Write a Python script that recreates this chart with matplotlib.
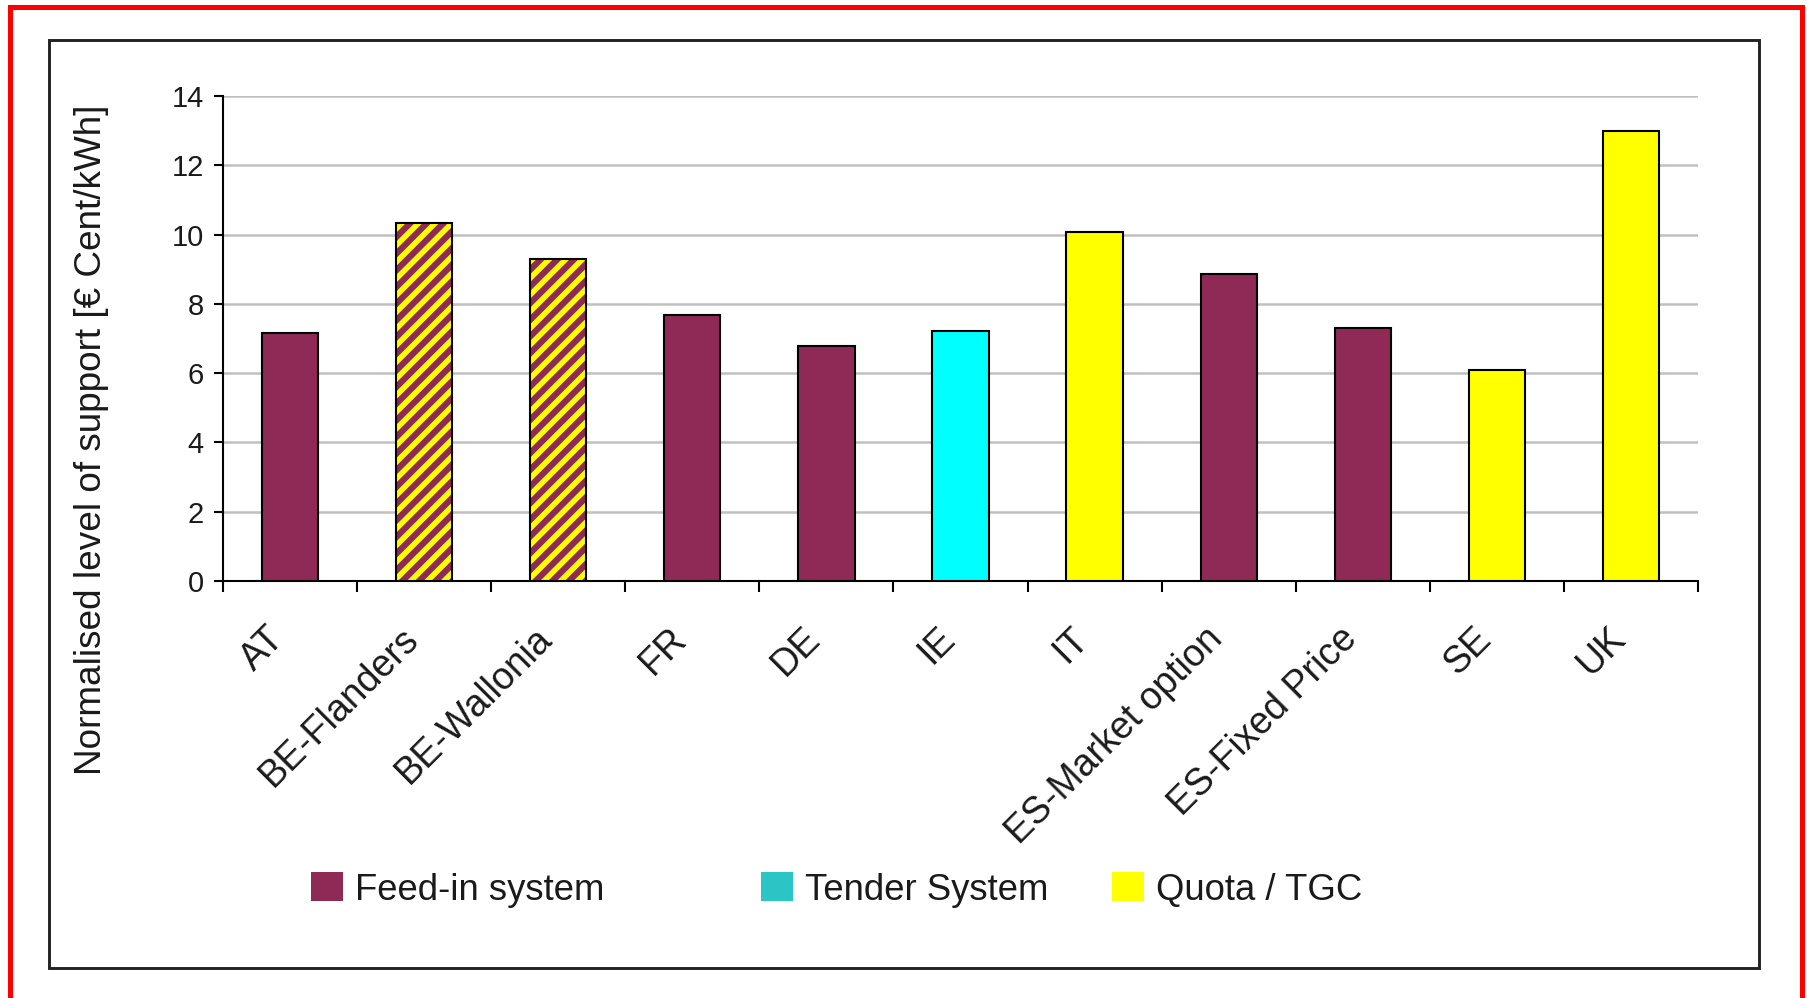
import matplotlib
matplotlib.use("Agg")
import matplotlib.pyplot as plt
from matplotlib.patches import Patch, Rectangle
from matplotlib.transforms import ScaledTranslation
import numpy as np

# data
countries = ["AT", "BE-Flanders", "BE-Wallonia", "FR", "DE", "IE", "IT",
             "ES-Market option", "ES-Fixed Price", "SE", "UK"]
support = [7.15, 10.32, 9.30, 7.68, 6.77, 7.22, 10.08, 8.86, 7.31, 6.09, 13.0]
# support scheme of each bar
scheme = ["feed", "mixed", "mixed", "feed", "feed", "tender", "quota",
          "feed", "feed", "quota", "quota"]
legend_labels = ["Feed-in system", "Tender System", "Quota / TGC"]
y_ticks = [0, 2, 4, 6, 8, 10, 12, 14]

PURPLE = "#8F2956"
CYAN = "#00FFFF"
TEAL = "#2CC5C5"
YELLOW = "#FFFF00"
TXT = "#1a1a1a"

W, H, DPI = 1807, 998, 150
plt.rcParams["font.family"] = ["Liberation Sans", "DejaVu Sans"]
plt.rcParams["hatch.linewidth"] = 3.0

fig = plt.figure(figsize=(W / DPI, H / DPI), dpi=DPI)
ax = fig.add_axes([223 / W, 1 - 581 / H, (1698 - 223) / W, (581 - 96) / H])

x = np.arange(len(countries))
fill = {"feed": PURPLE, "tender": CYAN, "quota": YELLOW, "mixed": YELLOW}
for xi, val, kind in zip(x, support, scheme):
    if kind == "mixed":
        # yellow bar with purple diagonal stripes, black outline on top
        ax.bar(xi, val, width=0.42, color=YELLOW, edgecolor=PURPLE,
               hatch="///", linewidth=0, zorder=3)
        ax.bar(xi, val, width=0.42, fill=False, edgecolor="black",
               linewidth=1.0, zorder=4)
    else:
        ax.bar(xi, val, width=0.42, color=fill[kind], edgecolor="black",
               linewidth=1.0, zorder=3)

ax.set_xlim(-0.5, len(countries) - 0.5)
ax.set_ylim(0, 14)
ax.set_yticks(y_ticks)
ax.yaxis.grid(True, color="#c0c0c0", linewidth=1.2, zorder=0)
ax.set_axisbelow(True)

for side in ["top", "right"]:
    ax.spines[side].set_visible(False)
for side in ["left", "bottom"]:
    ax.spines[side].set_linewidth(1.0)
    ax.spines[side].set_color("black")

ax.tick_params(axis="y", length=4.3, width=1.0, pad=5.0, labelsize=14,
               labelcolor=TXT)
ax.set_xticks(x)
ax.set_xticklabels(countries, rotation=45, ha="right", va="top",
                   rotation_mode="anchor", fontsize=18, color=TXT)
ax.tick_params(axis="x", which="major", length=0, pad=19)
ax.set_xticks(np.arange(-0.5, len(countries)), minor=True)
ax.tick_params(axis="x", which="minor", length=5.3, width=1.0)

shift = ScaledTranslation(-24 / DPI, 0, fig.dpi_scale_trans)
for lab in ax.get_xticklabels():
    lab.set_transform(lab.get_transform() + shift)

fig.text(92 / W, 1 - 440 / H, "Normalised level of support [€ Cent/kWh]",
         rotation=90, ha="center", va="center", fontsize=17.7, color=TXT)

# legend entries are spaced unevenly in the original, so place them one by one
legend_x = [311, 761, 1112]
legend_col = [PURPLE, TEAL, YELLOW]
for lx, lab, col in zip(legend_x, legend_labels, legend_col):
    fig.legend(handles=[Patch(facecolor=col, edgecolor="none", label=lab)],
               loc="center left", bbox_to_anchor=(lx / W, 1 - 890 / H),
               frameon=False, fontsize=17.5, handlelength=0.88,
               handleheight=0.85, handletextpad=0.33, borderpad=0,
               borderaxespad=0, labelcolor=TXT)

# inner black frame and outer red frame
fig.patches.append(Rectangle((49 / W, 1 - 968 / H), (1759 - 49) / W,
                             (968 - 40) / H, fill=False, edgecolor="#222222",
                             linewidth=1.4, transform=fig.transFigure))
fig.patches.append(Rectangle((10 / W, -0.02), (1802 - 10) / W,
                             1.02 - 7 / H, fill=False, edgecolor="red",
                             linewidth=2.4, transform=fig.transFigure))

fig.savefig("out.png", dpi=DPI, facecolor="white")
